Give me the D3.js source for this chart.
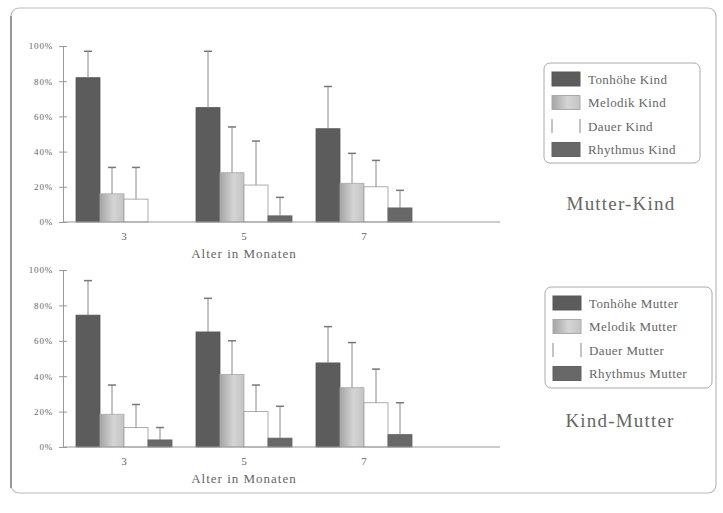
<!DOCTYPE html>
<html>
<head>
<meta charset="utf-8">
<script src="https://cdn.jsdelivr.net/npm/d3@7"></script>
<style>
  body { margin: 0; background: #fff; }
  svg text { font-family: "Liberation Serif", "DejaVu Serif", serif !important; fill: #666; }
</style>
</head>
<body>
<svg id="chart" width="723" height="513"></svg>
<script>
// ages in months (x categories)
var ages = ["3", "5", "7"];
var series = ["Tonhöhe", "Melodik", "Dauer", "Rhythmus"];
var yTicks = [0, 20, 40, 60, 80, 100];

// Mutter-Kind: means and upper end of the error bars (%)
var mkTonhoehe = [82, 65, 53],   mkTonhoeheUp = [97, 97, 77];
var mkMelodik  = [16, 28, 22],   mkMelodikUp  = [31, 54, 39];
var mkDauer    = [13, 21, 20],   mkDauerUp    = [31, 46, 35];
var mkRhythmus = [0, 3.5, 8],    mkRhythmusUp = [null, 14, 18];

// Kind-Mutter
var kmTonhoehe = [74.5, 65, 47.5], kmTonhoeheUp = [94, 84, 68];
var kmMelodik  = [18.5, 41, 33.5], kmMelodikUp  = [35, 60, 59];
var kmDauer    = [11, 20, 25],     kmDauerUp    = [24, 35, 44];
var kmRhythmus = [4, 5, 7],        kmRhythmusUp = [11, 23, 25];

var svg = d3.select("#chart");
var serif = "'Liberation Serif', 'DejaVu Serif', serif";

// frame
svg.append("rect")
  .attr("x", 11).attr("y", 8).attr("width", 705).attr("height", 485)
  .attr("rx", 8).attr("fill", "none")
  .attr("stroke", "#bbb").attr("stroke-width", 1.2);
svg.append("line")
  .attr("x1", 11).attr("x2", 11).attr("y1", 16).attr("y2", 488)
  .attr("stroke", "#888").attr("stroke-width", 1.6);

var defs = svg.append("defs");
var grad = defs.append("linearGradient").attr("id", "melodik")
  .attr("x1", "0%").attr("x2", "100%").attr("y1", "0%").attr("y2", "0%");
grad.append("stop").attr("offset", "0%").attr("stop-color", "#a4a4a4");
grad.append("stop").attr("offset", "55%").attr("stop-color", "#d4d4d4");
grad.append("stop").attr("offset", "100%").attr("stop-color", "#c4c4c4");

var fills = ["#5c5c5c", "url(#melodik)", "#fff", "#686868"];
var strokes = ["#585858", "#aaa", "#999", "#626262"];

var x0 = d3.scaleBand().domain(ages).range([64, 424]).paddingInner(0.2).paddingOuter(0.1);
var x1 = d3.scaleBand().domain(series).range([0, x0.bandwidth()]);

function drawPanel(top, bottom, means, ups, names, title, legendBox, titlePos) {
  var y = d3.scaleLinear().domain([0, 100]).range([bottom, top]);
  var g = svg.append("g");

  // y axis
  var yAxis = d3.axisLeft(y).tickValues(yTicks).tickSize(4).tickPadding(6)
    .tickFormat(function(d) { return d + "%"; });
  var ya = g.append("g").attr("transform", "translate(63,0)").call(yAxis)
    .attr("font-family", serif);
  ya.select(".domain").attr("stroke", "#999");
  ya.selectAll(".tick line").attr("stroke", "#999").attr("x2", -4).attr("x1", 4);
  ya.selectAll(".tick text").style("font-size", "9px").style("letter-spacing", "0.8px")
    .attr("fill", "#777");

  // bars
  ages.forEach(function(age, i) {
    var gx = x0(age);
    series.forEach(function(s, k) {
      var v = means[k][i];
      var bx = gx + x1(s);
      if (v > 0) {
        g.append("rect")
          .attr("x", bx).attr("y", y(v))
          .attr("width", x1.bandwidth()).attr("height", y(0) - y(v))
          .attr("fill", fills[k]).attr("stroke", strokes[k]).attr("stroke-width", 0.8);
      }
      var up = ups[k][i];
      if (up != null) {
        var cx = bx + x1.bandwidth() / 2;
        g.append("line").attr("x1", cx).attr("x2", cx)
          .attr("y1", y(v)).attr("y2", y(up))
          .attr("stroke", "#888").attr("stroke-width", 1);
        g.append("line").attr("x1", cx - 4).attr("x2", cx + 4)
          .attr("y1", y(up)).attr("y2", y(up))
          .attr("stroke", "#777").attr("stroke-width", 1.5);
      }
    });
  });

  // x axis
  var xa = g.append("g").attr("transform", "translate(0," + bottom + ")")
    .call(d3.axisBottom(x0).tickSize(0).tickPadding(10))
    .attr("font-family", serif);
  xa.select(".domain").remove();
  xa.selectAll(".tick text").style("font-size", "11px").attr("fill", "#666");
  g.append("line").attr("x1", 63).attr("x2", 500)
    .attr("y1", bottom).attr("y2", bottom)
    .attr("stroke", "#999").attr("stroke-width", 1.2);
  g.append("text").attr("x", 244).attr("y", bottom + 36)
    .attr("text-anchor", "middle").style("font-size", "13px")
    .style("letter-spacing", "1px")
    .text("Alter in Monaten");

  // legend
  var lb = legendBox;
  g.append("rect").attr("x", lb.x).attr("y", lb.y)
    .attr("width", lb.w).attr("height", lb.h).attr("rx", 6)
    .attr("fill", "none").attr("stroke", "#aaa").attr("stroke-width", 1);
  names.forEach(function(n, k) {
    var cy = lb.y + 16 + k * 23.5;
    g.append("rect").attr("x", lb.x + 8).attr("y", cy - 7)
      .attr("width", 28).attr("height", 14)
      .attr("fill", fills[k]).attr("stroke", k === 2 ? "none" : strokes[k]);
    if (k === 2) {
      g.append("line").attr("x1", lb.x + 8).attr("x2", lb.x + 8)
        .attr("y1", cy - 7).attr("y2", cy + 7).attr("stroke", "#888");
      g.append("line").attr("x1", lb.x + 36).attr("x2", lb.x + 36)
        .attr("y1", cy - 7).attr("y2", cy + 7).attr("stroke", "#888");
    }
    g.append("text").attr("x", lb.x + 44).attr("y", cy + 4.5)
      .style("font-size", "13px").style("letter-spacing", "0.4px")
      .attr("fill", "#777").text(n);
  });

  g.append("text").attr("x", titlePos[0]).attr("y", titlePos[1])
    .attr("text-anchor", "middle").style("font-size", "19px")
    .style("letter-spacing", "1.2px").attr("fill", "#777")
    .text(title);
}

drawPanel(46, 222,
  [mkTonhoehe, mkMelodik, mkDauer, mkRhythmus],
  [mkTonhoeheUp, mkMelodikUp, mkDauerUp, mkRhythmusUp],
  ["Tonhöhe Kind", "Melodik Kind", "Dauer Kind", "Rhythmus Kind"],
  "Mutter-Kind", {x: 544, y: 63, w: 156, h: 100}, [621, 210]);

drawPanel(270, 447,
  [kmTonhoehe, kmMelodik, kmDauer, kmRhythmus],
  [kmTonhoeheUp, kmMelodikUp, kmDauerUp, kmRhythmusUp],
  ["Tonhöhe Mutter", "Melodik Mutter", "Dauer Mutter", "Rhythmus Mutter"],
  "Kind-Mutter", {x: 545, y: 287, w: 167, h: 101}, [620, 427]);
</script>
</body>
</html>
